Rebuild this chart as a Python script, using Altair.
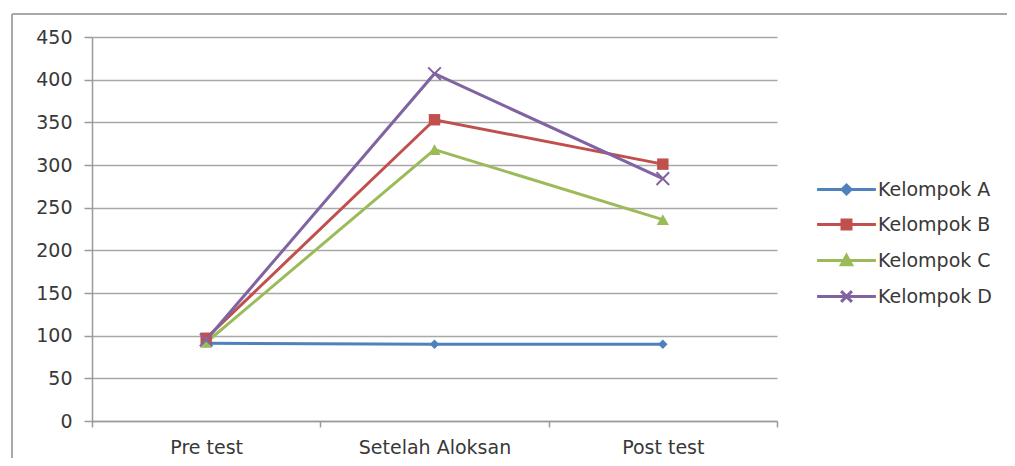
import altair as alt
import pandas as pd

categories = ["Pre test", "Setelah Aloksan", "Post test"]
series = ["Kelompok A", "Kelompok B", "Kelompok C", "Kelompok D"]
kelompok_a = [91, 90, 90]
kelompok_b = [97, 353, 301]
kelompok_c = [92, 318, 236]
kelompok_d = [95, 407, 284]
y_ticks = [0, 50, 100, 150, 200, 250, 300, 350, 400, 450]

colors = ["#4f81bd", "#c0504d", "#9bbb59", "#8064a2"]
marker_shapes = ["diamond", "square", "triangle-up", "M-1,-1L1,1M-1,1L1,-1"]
legend_shapes = [
    "M-4.9,0L4.9,0M0,-0.75L0.75,0L0,0.75L-0.75,0Z",
    "M-4.9,0L4.9,0M-0.75,-0.75L0.75,-0.75L0.75,0.75L-0.75,0.75Z",
    "M-4.9,0L4.9,0M0,-0.85L0.85,0.7L-0.85,0.7Z",
    "M-4.9,0L4.9,0M-0.9,-0.9L0.9,0.9M-0.9,0.9L0.9,-0.9",
]

rows = []
for name, vals in zip(series, [kelompok_a, kelompok_b, kelompok_c, kelompok_d]):
    for cat, v in zip(categories, vals):
        rows.append({"Tahap": cat, "Kelompok": name, "Nilai": v})
df = pd.DataFrame(rows)

FONT = "DejaVu Sans"
FS = 19
TXT = "#383838"
AXC = "#9a9a9a"
base = alt.Chart(df)

x_enc = alt.X(
    "Tahap:N",
    sort=categories,
    scale=alt.Scale(type="band", domain=categories, paddingInner=0, paddingOuter=0),
    axis=alt.Axis(
        title=None, labelAngle=0, tickBand="extent", tickSize=6,
        tickColor=AXC, tickWidth=1.5, domainColor=AXC, domainWidth=1.5,
        labelPadding=11, labelFont=FONT, labelFontSize=FS, labelColor=TXT, grid=False,
    ),
)
y_enc = alt.Y(
    "Nilai:Q",
    scale=alt.Scale(domain=[0, 450], nice=False),
    axis=alt.Axis(
        title=None, values=y_ticks, tickSize=8, tickColor=AXC, tickWidth=1.5,
        domainColor=AXC, domainWidth=1.5, gridColor="#a8a8a8", gridWidth=1.6,
        labelPadding=12, labelFont=FONT, labelFontSize=FS, labelColor=TXT,
    ),
)
color_scale = alt.Scale(domain=series, range=colors)
color_enc = alt.Color("Kelompok:N", scale=color_scale)

lines = base.mark_line(strokeWidth=3).encode(x=x_enc, y=y_enc, color=color_enc, detail="Kelompok:N")

marker_sizes = [90, 130, 150, 160]
markers = []
for name, shp, sz in zip(series, marker_shapes, marker_sizes):
    is_x = shp.startswith("M")
    markers.append(
        base.transform_filter(alt.datum.Kelompok == name)
        .mark_point(shape=shp, size=sz, filled=not is_x, strokeWidth=2 if is_x else 1, opacity=1)
        .encode(x=x_enc, y=y_enc, color=color_enc)
    )

legend_props = dict(
    title=None, orient="none", legendX=745, legendY=143, padding=0, rowPadding=14,
    symbolSize=144, labelOffset=22, labelFont=FONT, labelFontSize=FS, labelColor=TXT,
    symbolStrokeWidth=3, symbolOpacity=1,
)

legend_layer = (
    base.transform_filter("false")
    .mark_point(filled=True, size=144, strokeWidth=3, opacity=1)
    .encode(
        x=x_enc, y=y_enc,
        color=alt.Color("Kelompok:N", scale=color_scale, legend=alt.Legend(**legend_props)),
        stroke=alt.Stroke("Kelompok:N", scale=color_scale, legend=alt.Legend(**legend_props)),
        shape=alt.Shape("Kelompok:N", scale=alt.Scale(domain=series, range=legend_shapes),
                        legend=alt.Legend(**legend_props)),
    )
)

frame_src = alt.Chart(pd.DataFrame({"a": [0]}))
frame_top = frame_src.mark_rule(color="#a8a8a8", strokeWidth=2).encode(
    x=alt.value(-80), x2=alt.value(1200), y=alt.value(-23)
)
frame_left = frame_src.mark_rule(color="#a8a8a8", strokeWidth=2).encode(
    x=alt.value(-80), y=alt.value(-23), y2=alt.value(600)
)

chart = (
    alt.layer(frame_top, frame_left, lines, *markers, legend_layer)
    .properties(
        width=685, height=384,
        background="white",
        autosize=alt.AutoSizeParams(type="none"),
        padding={"left": 84, "top": 29, "right": 230, "bottom": 37},
    )
    .configure_view(stroke="transparent", strokeWidth=0)
    .configure_axisX(grid=False)
)

chart.save("out.html", embed_options={"renderer": "svg", "actions": False})
